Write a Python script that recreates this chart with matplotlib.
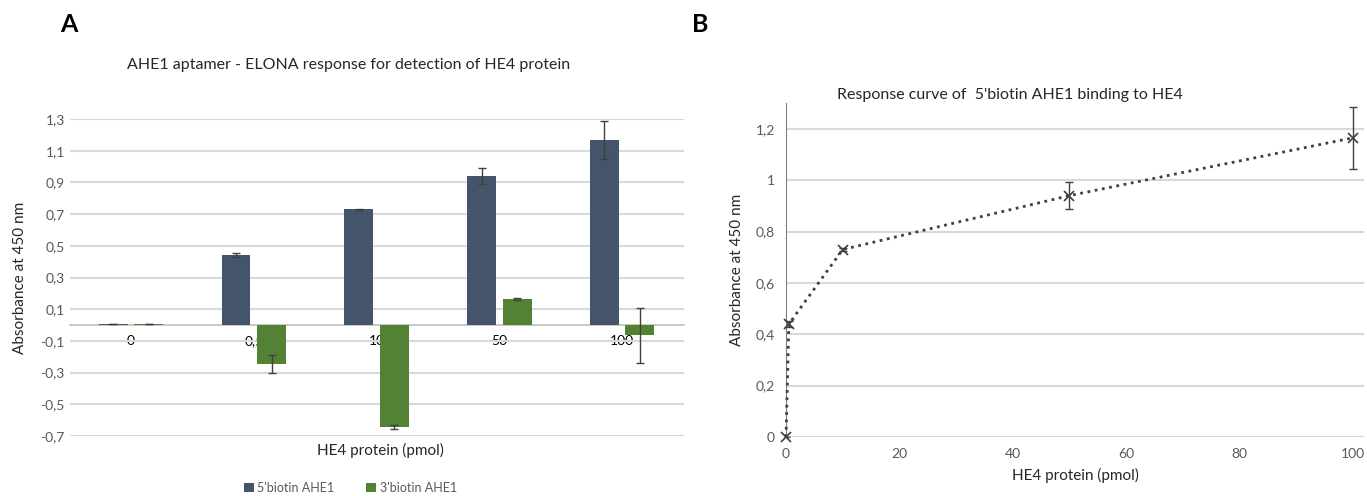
import matplotlib.pyplot as plt
import numpy as np

plt.rcParams["font.family"] = ["Lato", "DejaVu Sans"]

# panel A data
categories = ["0", "0,5", "10", "50", "100"]
biotin5_mean = [0.005, 0.44, 0.73, 0.94, 1.165]
biotin5_err = [0.0, 0.012, 0.005, 0.052, 0.12]
biotin3_mean = [0.005, -0.245, -0.645, 0.165, -0.065]
biotin3_err = [0.0, 0.055, 0.012, 0.004, 0.175]

# panel B data
conc_pmol = [0, 0.5, 10, 50, 100]
curve_mean = [0.0, 0.44, 0.73, 0.94, 1.165]
curve_err = [0.0, 0.012, 0.005, 0.052, 0.12]

BLUE = "#44546A"
GREEN = "#548235"
GRID = "#d9d9d9"
TICK = "#595959"

fig = plt.figure(figsize=(13.67, 4.96), dpi=100)

# ---- panel A ----
ax1 = fig.add_axes([0.051, 0.121, 0.449, 0.639])
x = np.arange(len(categories))
w = 0.235
off = 0.145
ax1.bar(x - off, biotin5_mean, w, color=BLUE, label="5'biotin AHE1", zorder=3)
ax1.bar(x + off, biotin3_mean, w, color=GREEN, label="3'biotin AHE1", zorder=3)
ax1.errorbar(x - off, biotin5_mean, yerr=biotin5_err, fmt="none", ecolor="#404040",
             elinewidth=1, capsize=3, zorder=4)
ax1.errorbar(x + off, biotin3_mean, yerr=biotin3_err, fmt="none", ecolor="#404040",
             elinewidth=1, capsize=3, zorder=4)

yt = np.arange(-0.7, 1.31, 0.2)
ax1.set_yticks(yt)
ax1.set_yticklabels([f"{v:.1f}".replace(".", ",") for v in yt], color=TICK, fontsize=10)
ax1.set_ylim(-0.7, 1.3)
ax1.set_xlim(-0.5, 4.5)
ax1.yaxis.grid(True, color=GRID, linewidth=1.5, zorder=0)
ax1.set_xticks(x)
ax1.set_xticklabels(categories, color=TICK, fontsize=10)
ax1.tick_params(axis="both", length=0)
ax1.tick_params(axis="x", pad=7)
for s in ["top", "right", "left"]:
    ax1.spines[s].set_visible(False)
ax1.spines["bottom"].set_position(("data", 0))
ax1.spines["bottom"].set_color("#bfbfbf")
ax1.spines["bottom"].set_linewidth(1.2)
ax1.spines["bottom"].set_zorder(2)
ax1.set_ylabel("Absorbance at 450 nm", fontsize=11, color="#262626", labelpad=10)
fig.text(0.278, 0.092, "HE4 protein (pmol)", ha="center", va="center", fontsize=11, color="#262626")
fig.text(0.255, 0.869, "AHE1 aptamer - ELONA response for detection of HE4 protein",
         ha="center", va="center", fontsize=11.5, color="#262626")
ax1.legend(loc="center", bbox_to_anchor=(0.457, -0.163), ncol=2, frameon=False,
           fontsize=9, handlelength=0.8, handleheight=0.8, columnspacing=2.5,
           handletextpad=0.3, labelcolor=TICK)

# ---- panel B ----
ax2 = fig.add_axes([0.575, 0.119, 0.423, 0.673])
ax2.errorbar(conc_pmol, curve_mean, yerr=curve_err, fmt="none", ecolor="#404040",
             elinewidth=1, capsize=3, zorder=4)
ax2.plot(conc_pmol, curve_mean, linestyle=":", color="#404040", linewidth=2,
         marker="x", markersize=7, markeredgewidth=1.2, zorder=5, clip_on=False)
ax2.set_xlim(0, 102)
ax2.set_ylim(0, 1.3)
ax2.set_xticks(np.arange(0, 101, 20))
ax2.set_xticklabels([str(v) for v in range(0, 101, 20)], color=TICK, fontsize=10)
ax2.set_yticks(np.arange(0, 1.21, 0.2))
ax2.set_yticklabels(["0"] + [f"{v:.1f}".replace(".", ",") if v != 1 else "1"
                             for v in np.arange(0.2, 1.21, 0.2).round(1)],
                    color=TICK, fontsize=10)
ax2.yaxis.grid(True, color=GRID, linewidth=1.5, zorder=0)
ax2.tick_params(axis="both", length=0, pad=8)
for s in ["top", "right", "bottom"]:
    ax2.spines[s].set_visible(False)
ax2.spines["left"].set_color("#7f7f7f")
ax2.set_ylabel("Absorbance at 450 nm", fontsize=11, color="#262626", labelpad=8)
ax2.set_xlabel("HE4 protein (pmol)", fontsize=11, color="#262626", labelpad=6)
fig.text(0.739, 0.808, "Response curve of  5'biotin AHE1 binding to HE4",
         ha="center", va="center", fontsize=11.5, color="#262626")

fig.text(0.05, 0.95, "A", fontsize=18, fontweight="bold", ha="center", va="center")
fig.text(0.512, 0.95, "B", fontsize=18, fontweight="bold", ha="center", va="center")

fig.savefig("out.png", dpi=100)
